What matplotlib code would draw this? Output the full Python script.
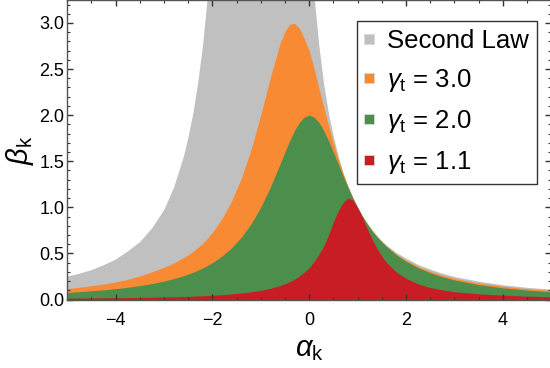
import matplotlib

matplotlib.use("Agg")
import matplotlib.pyplot as plt
from matplotlib.lines import Line2D
from matplotlib.ticker import FormatStrFormatter, MultipleLocator

plt.rcParams["font.family"] = ["Liberation Sans", "DejaVu Sans"]
plt.rcParams["mathtext.fontset"] = "custom"
plt.rcParams["mathtext.rm"] = "Liberation Sans"
plt.rcParams["mathtext.it"] = "Liberation Sans:italic"

# values (beta above the frame written as 3.5)
alpha_k = [
    -5.0, -4.75, -4.5, -4.25, -4.0, -3.75, -3.5, -3.25, -3.0, -2.8, -2.6,
    -2.5, -2.4, -2.3, -2.2, -2.1, -2.0, -1.8, -1.6, -1.4, -1.2, -1.0,
    -0.8, -0.6, -0.5, -0.4, -0.3, -0.2, -0.1, 0.0, 0.1, 0.2, 0.3, 0.4,
    0.5, 0.6, 0.7, 0.8, 0.9, 1.0, 1.1, 1.2, 1.3, 1.4, 1.5, 1.6, 1.8,
    2.0, 2.25, 2.5, 2.75, 3.0, 3.5, 4.0, 4.5, 5.0,
]

second_law_beta = [
    0.255, 0.286, 0.325, 0.379, 0.44, 0.529, 0.63, 0.78, 0.98, 1.22,
    1.55, 1.77, 2.03, 2.36, 2.77, 3.30, 3.5, 3.5, 3.5, 3.5, 3.5, 3.5,
    3.5, 3.5, 3.5, 3.5, 3.5, 3.5, 3.5, 3.5, 3.30, 2.76, 2.34, 2.02,
    1.77, 1.56, 1.38, 1.23, 1.11, 1.00, 0.91, 0.83, 0.76, 0.695, 0.64,
    0.59, 0.51, 0.45, 0.38, 0.33, 0.285, 0.25, 0.20, 0.16, 0.133, 0.113,
]

gamma_3_beta = [
    0.12, 0.133, 0.15, 0.168, 0.19, 0.218, 0.255, 0.30, 0.35, 0.395,
    0.455, 0.485, 0.52, 0.565, 0.61, 0.665, 0.727, 0.877, 1.07, 1.316,
    1.626, 2.0, 2.41, 2.778, 2.909, 2.985, 2.996, 2.941, 2.83, 2.70,
    2.51, 2.30, 2.09, 1.89, 1.70, 1.525, 1.37, 1.23, 1.108, 1.0, 0.906,
    0.823, 0.75, 0.685, 0.628, 0.578, 0.495, 0.428, 0.36, 0.307, 0.264,
    0.23, 0.18, 0.145, 0.118, 0.10,
]

gamma_2_beta = [
    0.077, 0.085, 0.095, 0.105, 0.118, 0.133, 0.151, 0.173, 0.20, 0.226,
    0.258, 0.276, 0.296, 0.318, 0.342, 0.37, 0.40, 0.472, 0.562, 0.676,
    0.82, 1.0, 1.22, 1.471, 1.60, 1.724, 1.835, 1.923, 1.98, 2.0, 1.98,
    1.923, 1.835, 1.724, 1.60, 1.471, 1.342, 1.22, 1.105, 1.0, 0.905,
    0.82, 0.745, 0.68, 0.625, 0.575, 0.485, 0.415, 0.345, 0.29, 0.247,
    0.213, 0.162, 0.127, 0.103, 0.084,
]

gamma_1_1_beta = [
    0.015, 0.016, 0.017, 0.0185, 0.02, 0.0215, 0.023, 0.025, 0.028, 0.03,
    0.033, 0.035, 0.037, 0.039, 0.041, 0.044, 0.047, 0.053, 0.061, 0.071,
    0.084, 0.10, 0.122, 0.152, 0.172, 0.193, 0.222, 0.256, 0.297, 0.345,
    0.41, 0.49, 0.58, 0.70, 0.84, 0.96, 1.05, 1.10, 1.08, 1.0, 0.89,
    0.77, 0.655, 0.555, 0.47, 0.40, 0.30, 0.23, 0.17, 0.13, 0.105, 0.085,
    0.062, 0.048, 0.037, 0.03,
]

series = [
    (second_law_beta, "#C0C0C0", "Second Law"),
    (gamma_3_beta, "#F88A33", r"$\gamma_\mathrm{t}$ = 3.0"),
    (gamma_2_beta, "#4C8F4C", r"$\gamma_\mathrm{t}$ = 2.0"),
    (gamma_1_1_beta, "#C91D25", r"$\gamma_\mathrm{t}$ = 1.1"),
]


def main():
    figure = plt.figure(figsize=(5.5, 3.68), dpi=100)
    axis = figure.add_axes([0.122, 0.186, 0.88, 0.813])

    handles = []
    for beta_values, color, label in series:
        axis.fill_between(
            alpha_k,
            0,
            beta_values,
            color=color,
            linewidth=0,
        )
        handles.append(
            Line2D(
                [],
                [],
                marker="s",
                linestyle="none",
                markersize=6.5,
                markerfacecolor=color,
                markeredgecolor="#D8D8D8",
                markeredgewidth=0.6,
                label=label,
            )
        )

    axis.set_xlim(-5, 5)
    axis.set_ylim(0, 3.245)

    axis.xaxis.set_major_locator(MultipleLocator(2))
    axis.xaxis.set_minor_locator(MultipleLocator(0.5))
    axis.yaxis.set_major_locator(MultipleLocator(0.5))
    axis.yaxis.set_minor_locator(MultipleLocator(0.1))
    axis.yaxis.set_major_formatter(FormatStrFormatter("%.1f"))

    axis.tick_params(
        which="both",
        direction="in",
        top=True,
        right=True,
        color="#333333",
        labelsize=13,
    )
    axis.tick_params(which="major", length=4, width=1)
    axis.tick_params(which="minor", length=2, width=0.8)
    axis.tick_params(axis="x", which="major", pad=9)
    axis.tick_params(axis="y", which="major", pad=2)

    for spine in axis.spines.values():
        spine.set_color("#555555")
        spine.set_linewidth(1)

    axis.set_xlabel(r"$\alpha_\mathrm{k}$", fontsize=21, labelpad=4)
    axis.set_ylabel(r"$\beta_\mathrm{k}$", fontsize=21, labelpad=2)

    legend = axis.legend(
        handles=handles,
        loc="upper right",
        bbox_to_anchor=(0.971, 0.930),
        borderaxespad=0,
        fontsize=18.5,
        frameon=True,
        fancybox=False,
        framealpha=1,
        edgecolor="#333333",
        handletextpad=0.5,
        labelspacing=0.55,
        borderpad=0.3,
        handlelength=0.4,
    )
    legend.get_frame().set_linewidth(1)

    figure.savefig("out.png", dpi=100)
    plt.close(figure)


if __name__ == "__main__":
    main()
